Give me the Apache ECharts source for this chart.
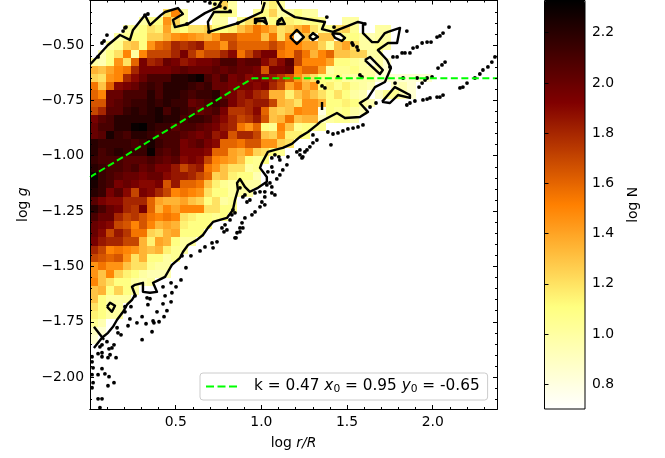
<!DOCTYPE html>
<html><head><meta charset="utf-8">
<style>html,body{margin:0;padding:0;background:#fff}#c{width:665px;height:458px}</style>
<script src="https://cdn.jsdelivr.net/npm/echarts@6/dist/echarts.min.js"></script>
</head><body><div id="c"></div>
<script>
const _ = null;
const xRange = [0, 2.375];
const yRange = [-2.144, -0.299];
const cRange = [0.702, 2.328];
const xBin = 0.0475, yBin = 0.0369;
const xMajor = [0.5, 1.0, 1.5, 2.0];
const xMinor = [0.1,0.2,0.3,0.4,0.6,0.7,0.8,0.9,1.1,1.2,1.3,1.4,1.6,1.7,1.8,1.9,2.1,2.2,2.3];
const yMajor = [-2.0,-1.75,-1.5,-1.25,-1.0,-0.75,-0.5];
const yMinor = [-2.1,-2.05,-1.95,-1.9,-1.85,-1.8,-1.7,-1.65,-1.6,-1.55,-1.45,-1.4,-1.35,-1.3,-1.2,-1.15,-1.1,-1.05,-0.95,-0.9,-0.85,-0.8,-0.7,-0.65,-0.6,-0.55,-0.45,-0.4,-0.35,-0.3];
const cTicks = [0.8,1.0,1.2,1.4,1.6,1.8,2.0,2.2];
const rowStart = [15,9,6,4,3,2,1,0,0,0,0,0,0,0,0,0,0,0,0,0,0,0,0,0,0,0,0,0,0,0,0,0,0,0,0,0,0,0,0,0,0,0,0];
const heatRows = [
[1.0,1.25,1.0,_,_,_,1.0,1.15,1.0],
[1.2,1.5,1.0,_,_,_,1.0,1.1,1.05,_,_,1.05,1.1,1.25,1.0,1.0,1.1,1.0,1.0],
[1.0,1.05,1.1,1.45,1.25,1.0,_,_,_,1.0,1.0,_,1.05,1.2,1.25,1.0,1.1,1.1,1.15,1.1,1.05,1.1,1.05,_,_,1.0,1.0],
[1.0,1.05,1.1,1.2,1.15,1.4,1.15,1.1,1.2,1.2,1.25,1.1,1.1,1.15,1.3,1.4,1.55,1.45,1.35,1.2,1.25,1.35,1.45,1.2,1.05,1.05,1.2,1.25,1.05,_,_,1.0,1.0],
[1.0,1.05,1.1,1.1,1.25,1.25,1.35,1.45,1.5,1.45,1.4,1.35,1.45,1.65,1.65,1.55,1.55,1.55,1.3,1.55,1.2,1.45,.75,1.3,.8,1.3,1.3,.75,1.1,1.1,1.0,.95,1.0,1.0],
[1.0,1.05,1.25,1.3,1.1,1.45,1.6,1.65,1.8,1.75,1.8,1.85,1.6,1.6,1.45,1.7,1.6,1.6,1.6,1.6,1.7,1.6,1.5,1.5,1.4,1.4,1.25,1.05,1.3,1.4,1.2,1.0,1.0,1.05,1.0],
[.95,1.1,1.2,1.5,1.0,1.5,1.7,1.7,1.7,1.8,1.95,1.75,1.6,1.7,1.7,1.8,1.9,1.55,1.7,1.85,1.95,1.95,1.55,1.5,1.7,1.55,1.35,1.5,1.6,1.3,1.3,1.25,1.25,1.0,1.0],
[1.0,.95,1.1,1.45,1.2,1.6,1.95,1.8,1.85,2.0,1.95,1.85,1.9,1.95,1.95,2.0,2.1,2.1,2.0,2.05,2.05,1.9,1.8,1.9,2.05,1.7,1.5,1.5,1.5,1.4,1.1,1.1,1.05,1.0,.8,1.0,.85],
[1.35,1.3,1.4,1.5,1.55,1.8,1.95,1.95,1.95,1.95,2.0,2.05,2.0,2.0,2.0,2.05,2.0,2.05,2.0,2.0,1.95,1.65,1.95,1.95,2.0,1.5,1.6,1.6,1.4,1.0,1.05,1.05,1.1,1.0,1.0,.95,.85],
[1.25,1.2,1.45,1.5,1.8,1.9,2.0,2.1,2.1,2.1,2.2,2.2,2.25,2.3,2.1,2.0,2.1,1.95,2.0,1.9,1.95,1.9,1.85,1.75,1.65,1.45,1.3,1.2,1.1,1.05,1.1,1.0,1.0,1.0,1.0,.85,.85,.85,.85,.85,.85,.85],
[1.55,1.3,1.6,1.9,1.95,2.0,2.1,2.15,2.1,2.2,2.2,2.2,2.15,2.1,2.15,2.0,2.0,1.95,1.95,1.95,1.9,1.95,1.8,1.7,1.4,1.55,1.35,1.45,1.1,1.15,1.05,1.15,1.05,1.0,.95,_,_,.9,.95,.85],
[1.6,1.5,2.0,2.0,2.1,2.1,2.1,2.2,2.1,2.2,2.2,2.15,2.1,2.15,2.15,2.2,2.0,1.95,1.85,1.9,1.8,1.75,1.35,1.35,1.15,1.3,1.4,1.3,1.2,1.1,1.2,1.1,1.0,.95,_,.9,1.05,1.05,.95,.85],
[1.65,1.65,2.0,2.05,2.1,2.15,2.15,2.2,2.15,2.2,2.15,2.15,2.0,2.05,2.1,2.15,2.1,1.95,1.85,1.8,1.85,1.85,1.7,1.35,1.3,1.2,1.45,1.45,1.35,1.1,1.1,1.15,1.1,1.0,.95],
[1.7,1.8,2.05,2.05,2.15,2.2,2.15,2.2,2.25,2.1,2.2,2.15,2.1,2.0,2.05,2.1,1.95,1.75,1.75,1.8,1.9,1.6,1.3,1.25,1.3,1.5,1.45,1.45,.8,1.1,1.05,1.1,1.0,.95],
[1.95,2.05,2.1,2.2,2.2,2.2,2.2,2.2,2.25,2.2,2.2,2.1,2.15,2.15,2.1,2.0,1.9,1.8,1.7,1.75,1.85,1.65,1.3,1.35,1.55,1.3,1.35,1.35,.9,1.0,1.05,1.05,.95],
[2.0,2.1,2.1,2.2,2.2,2.3,2.32,2.2,2.15,2.15,2.05,2.1,2.1,2.05,2.0,1.95,1.85,1.8,1.55,1.45,1.6,1.1,1.05,1.5,1.3,1.05,1.1,1.05,1.05],
[2.0,2.05,2.25,2.15,2.1,2.2,2.2,2.15,2.1,2.1,2.1,2.05,2.0,1.95,2.0,1.85,1.9,1.65,1.8,1.8,1.7,1.3,1.25,1.45,1.15,1.15,1.1],
[2.2,2.15,2.15,2.15,2.15,2.1,2.15,2.25,2.15,2.1,2.1,1.95,2.0,2.05,1.95,1.9,1.6,1.6,1.55,1.65,1.65,1.45,1.45,1.25,1.2],
[2.2,2.1,2.15,2.2,2.15,2.15,2.15,2.3,2.1,2.05,2.1,1.95,1.95,1.95,1.9,1.6,1.6,1.4,1.35,1.45,1.25,1.2,1.1,1.05],
[2.15,2.1,2.1,2.1,2.05,2.05,2.05,2.1,2.05,2.0,2.05,1.9,1.95,1.9,1.7,1.5,1.45,1.4,1.3,1.1,1.05,1.1],
[2.2,2.15,2.1,2.1,2.05,2.1,2.0,2.05,1.95,1.95,1.85,1.7,1.8,1.85,1.55,1.45,1.3,1.2,1.2,1.0,1.05],
[2.3,2.15,2.1,2.05,2.0,2.0,1.95,2.0,2.0,1.9,1.85,1.85,1.8,1.7,1.6,1.25,1.3,1.15,1.1,1.1,.95],
[2.25,2.15,2.1,1.95,2.0,1.95,1.9,1.9,1.95,1.65,1.85,1.6,1.6,1.55,1.3,1.15,1.05,1.0,1.05,1.0,1.0],
[2.2,2.15,1.95,2.05,1.9,1.7,1.95,1.9,1.8,1.7,1.5,1.55,1.5,1.45,1.2,1.1,1.1,1.0,1.0,1.0],
[2.05,1.95,1.9,1.9,1.8,1.8,1.8,1.6,1.4,1.35,1.35,1.4,1.3,1.25,1.1,1.2,1.0,1.05],
[2.2,2.1,2.0,1.95,1.8,1.75,1.95,1.6,1.35,1.5,1.4,1.5,1.5,1.5,1.2,1.2,1.1,1.1],
[2.1,2.0,2.0,1.8,1.7,1.75,1.65,1.55,1.5,1.55,1.5,1.2,1.15,1.1,1.1,1.05,1.1],
[2.0,1.95,1.9,1.7,1.65,1.5,1.65,1.5,1.35,1.4,1.35,1.15,1.1,1.1,1.1],
[2.0,1.9,1.7,1.85,1.75,1.55,1.55,1.25,1.2,1.35,1.4,1.1,1.1,1.1],
[1.95,1.85,1.8,1.8,1.7,1.7,1.35,1.15,1.4,1.35,1.1,1.0,1.0],
[1.8,1.7,1.5,1.55,1.5,1.45,1.35,1.3,1.35,1.15,1.05,1.0],
[1.7,1.65,1.6,1.65,1.45,1.2,1.35,1.1,1.1,1.0,1.05],
[1.45,1.55,1.45,1.45,1.3,1.2,1.2,1.05,1.0,1.0],
[1.45,1.3,1.5,1.25,1.15,1.1,1.0,.95,.95,.95],
[1.5,1.3,1.2,1.1,1.1,1.0,.95,1.0],
[1.3,1.35,1.1,1.25,1.1,1.0],
[1.3,1.1,1.0,1.0,1.0],
[1.2,1.1,1.0,1.0],
[1.15,1.1,1.0,1.0],
[1.05,.95],
[.9,.85],
[.85]
];
const contourMain = [[.023,-1.868],[.070,-1.822],[.105,-1.800],[.134,-1.773],[.158,-1.741],[.193,-1.705],[.216,-1.673],[.245,-1.651],[.263,-1.628],[.245,-1.592],[.263,-1.583],[.309,-1.574],[.309,-1.615],[.350,-1.619],[.391,-1.615],[.368,-1.574],[.391,-1.565],[.438,-1.547],[.455,-1.524],[.478,-1.493],[.525,-1.461],[.543,-1.434],[.572,-1.403],[.624,-1.380],[.659,-1.358],[.688,-1.326],[.718,-1.299],[.758,-1.290],[.799,-1.281],[.834,-1.245],[.846,-1.200],[.863,-1.154],[.858,-1.123],[.875,-1.105],[.904,-1.141],[.933,-1.163],[.980,-1.145],[1.032,-1.118],[1.032,-1.096],[.992,-1.055],[1.003,-1.033],[1.038,-.983],[1.079,-.974],[1.125,-.965],[1.178,-.947],[1.225,-.915],[1.272,-.893],[1.324,-.861],[1.342,-.848],[1.441,-.807],[1.488,-.830],[1.575,-.825],[1.622,-.802],[1.575,-.762],[1.622,-.739],[1.663,-.690],[1.721,-.667],[1.756,-.604],[1.733,-.568],[1.680,-.523],[1.739,-.491],[1.792,-.491],[1.809,-.423],[1.739,-.441],[1.721,-.446],[1.680,-.487],[1.646,-.487],[1.593,-.446],[1.593,-.401],[1.564,-.396],[1.517,-.410],[1.418,-.441],[1.354,-.428],[1.371,-.396],[1.196,-.374],[1.125,-.342],[1.096,-.306],[1.09,-.297]];
const contourPeak = [[1.020,-.306],[1.003,-.351],[.863,-.401],[.694,-.441],[.688,-.396],[.723,-.351],[.828,-.351]];
const contourLeft = [[.003,-.586],[.041,-.554],[.105,-.500],[.175,-.455],[.233,-.477],[.251,-.432],[.321,-.365],[.350,-.410],[.414,-.365],[.438,-.351],[.513,-.333],[.542,-.360],[.484,-.387],[.496,-.419],[.572,-.405],[.671,-.356],[.746,-.329],[.770,-.297]];
const hole1 = [[1.167,-.464],[1.207,-.432],[1.248,-.464],[1.207,-.495],[1.167,-.464]];
const hole2 = [[1.278,-.464],[1.301,-.446],[1.330,-.464],[1.301,-.477],[1.278,-.464]];
const hole3 = [[1.412,-.446],[1.459,-.450],[1.488,-.468],[1.470,-.482],[1.430,-.468],[1.412,-.446]];
const hole4 = [[.963,-.405],[.963,-.383],[1.020,-.378],[1.032,-.405],[1.009,-.392],[.974,-.392],[.963,-.405]];
const hole5 = [[1.090,-.396],[1.119,-.378],[1.137,-.405],[1.108,-.405],[1.090,-.396]];
const hole6 = [[1.604,-.568],[1.634,-.554],[1.709,-.613],[1.692,-.631],[1.604,-.568]];
const hole7 = [[1.354,-.757],[1.354,-.793]];
const hole8 = [[1.704,-.757],[1.779,-.690],[1.867,-.726],[1.867,-.739],[1.797,-.726],[1.750,-.762],[1.704,-.757]];
const hole9 = [[.099,-1.682],[.117,-1.664],[.146,-1.678],[.128,-1.705],[.099,-1.682]];
const hole10 = [[.023,-1.773],[.082,-1.831]];
const contours = [contourMain,contourPeak,contourLeft,hole1,hole2,hole3,hole4,hole5,hole6,hole7,hole8,hole9,hole10];
const sparsePoints = [[.070,-.491],[.082,-.482],[.099,-.455],[.193,-.437],[.204,-.423],[.210,-.419],[.047,-.554],[.321,-.365],[.338,-.360],[.572,-.301],[.671,-.301],[.700,-.310],[.729,-.315],[.758,-.324],[.788,-.333],[.817,-.347],[.863,-.401],[.566,-.405],[.694,-.441],
[1.096,-.405],[1.108,-.387],[1.382,-.374],[1.424,-.419],[1.604,-.405],[1.849,-.437],[1.768,-.554],[1.792,-.554],[1.821,-.536],[1.838,-.536],[1.867,-.536],[1.885,-.514],[1.909,-.509],[1.938,-.491],[1.967,-.487],[1.990,-.487],[2.025,-.464],[2.042,-.459],[2.060,-.446],[2.095,-.419],
[2.072,-.577],[2.054,-.590],[2.031,-.604],[1.996,-.644],[1.967,-.649],[1.909,-.649],[1.827,-.649],[1.750,-.599],[1.920,-.690],[1.938,-.672],[1.955,-.658],[1.535,-.500],[1.558,-.509],[1.529,-.491],[1.564,-.523],[1.330,-.667],[1.354,-.685],[1.371,-.694],[1.447,-.644],[1.587,-.644],[1.575,-.635],[1.780,-.672],[1.634,-.780],[1.669,-.762],
[1.849,-.771],[1.867,-.762],[1.896,-.753],[1.943,-.748],[1.967,-.744],[1.984,-.739],[2.025,-.735],[2.042,-.735],[2.060,-.726],[2.159,-.694],[2.176,-.690],[2.200,-.672],[2.246,-.649],[2.275,-.631],[2.293,-.613],[2.322,-.599],[2.345,-.577],[2.363,-.554],
[1.388,-.893],[1.418,-.902],[1.447,-.897],[1.476,-.888],[1.505,-.879],[1.535,-.875],[1.564,-.870],[1.593,-.861],[1.301,-.906],[1.324,-.929],[1.301,-.942],[1.283,-.960],[1.266,-.974],[1.406,-.951],[1.254,-.983],[1.225,-.974],[1.207,-.983],[1.242,-1.005],[1.225,-.996],[1.237,-1.010],
[1.149,-1.041],[1.125,-1.064],[1.108,-1.087],[1.090,-1.105],[1.155,-1.005],[1.079,-.996],[1.102,-1.005],[1.108,-1.019],[1.061,-1.010],[1.061,-1.051],[1.067,-1.073],[1.038,-1.073],[1.050,-1.123],[1.061,-1.141],[1.032,-1.132],[.992,-1.163],[.963,-1.168],[.933,-1.200],[.916,-1.209],[1.020,-1.163],[1.061,-1.168],[1.079,-1.177],[1.020,-1.186],[1.003,-1.209],[.992,-1.231],[.963,-1.254],[.945,-1.267],[.892,-1.186],[.875,-1.145],[.904,-1.177],[1.020,-1.222],[.904,-1.281],[.887,-1.303],[.875,-1.326],[.858,-1.348],[.846,-1.371],[.846,-1.258],[.828,-1.267],[.834,-1.245],[.817,-1.290],[.788,-1.312],[.770,-1.326],[.782,-1.344],
[.852,-1.371],[.875,-1.344],[.892,-1.326],[.799,-1.335],[.741,-1.389],[.712,-1.394],[.718,-1.416],[.671,-1.412],[.642,-1.430],[.589,-1.452],[.537,-1.452],[.560,-1.506],[.531,-1.561],[.473,-1.574],[.502,-1.592],[.426,-1.592],[.438,-1.633],[.478,-1.619],[.473,-1.660],[.426,-1.669],[.449,-1.700],[.432,-1.727],[.403,-1.750],[.368,-1.746],[.373,-1.755],[.327,-1.759],[.362,-1.795],[.391,-1.705],[.333,-1.642],[.350,-1.646],[.338,-1.673],[.304,-1.727],[.274,-1.755],[.233,-1.737],[.222,-1.768],[.304,-1.831],[.263,-1.633],[.239,-1.682],[.204,-1.682],[.204,-1.705],[.158,-1.777],[.163,-1.800],[.181,-1.809],[.140,-1.854],[.128,-1.868],[.111,-1.872],[.099,-1.840],[.070,-1.854],[.058,-1.863],[.117,-1.899],[.152,-1.912],[.105,-1.912],[.070,-1.890],[.047,-1.894],[.070,-1.908],[.012,-1.908],[.012,-1.931],[.018,-1.958],[.012,-1.989],[.047,-1.989],[.070,-1.962],[.087,-1.985],[.111,-1.998],[.140,-2.025],[.105,-2.039],[.018,-2.025],[.012,-2.048],[.047,-2.098],[.070,-2.098],[.058,-2.138]];
const fitLine = [[0,-1.0965],[0.95,-0.65],[2.375,-0.65]];
const fitName = 'k = 0.47 x0 = 0.95 y0 = -0.65';

const FONT = 'DejaVu Sans';
const cells = [];
heatRows.forEach((r, j) => r.forEach((v, k) => { if (v !== null) cells.push([rowStart[j] + k, j, v]); }));

function fmtX(v){ return v.toFixed(1); }
function fmtY(v){ return v.toFixed(2).replace('-', '\u2212'); }
function mkX(pos, vals, len, label){
  return {type:'value', gridIndex:0, min:xRange[0], max:xRange[1], position:pos, z:6,
    axisLine:{show:true,onZero:false,lineStyle:{color:'#000',width:1}}, splitLine:{show:false},
    axisTick:{show:true,inside:true,length:len,customValues:vals,lineStyle:{color:'#000',width:1}},
    axisLabel:{show:label,customValues:vals,formatter:fmtX,color:'#000',fontFamily:FONT,fontSize:13.9,margin:6}};
}
function mkY(pos, vals, len, label){
  return {type:'value', gridIndex:0, min:yRange[0], max:yRange[1], position:pos, z:6,
    axisLine:{show:true,onZero:false,lineStyle:{color:'#000',width:1}}, splitLine:{show:false},
    axisTick:{show:true,inside:true,length:len,customValues:vals,lineStyle:{color:'#000',width:1}},
    axisLabel:{show:label,customValues:vals,formatter:fmtY,color:'#000',fontFamily:FONT,fontSize:13.9,margin:6}};
}
const xa0 = mkX('bottom', xMajor, 4, true);
xa0.name = '{a|log }{b|r/R}'; xa0.nameLocation='middle'; xa0.nameGap=27;
xa0.nameTextStyle = {rich:{a:{fontFamily:FONT,fontSize:13.9,color:'#000'},b:{fontFamily:FONT,fontSize:13.9,fontStyle:'italic',color:'#000'}}};
const ya0 = mkY('left', yMajor, 4, true);
ya0.name = '{a|log }{b|g}'; ya0.nameLocation='middle'; ya0.nameGap=60;
ya0.nameTextStyle = {rich:{a:{fontFamily:FONT,fontSize:13.9,color:'#000'},b:{fontFamily:FONT,fontSize:13.9,fontStyle:'italic',color:'#000'}}};

const option = {
  animation:false, backgroundColor:'#fff',
  grid:[
    {left:90,top:0.5,width:407,height:408.5,containLabel:false},
    {left:544.5,top:0.5,width:40.5,height:408.5,show:true,borderColor:'#000',borderWidth:1,backgroundColor:'transparent',z:10}
  ],
  xAxis:[xa0, mkX('bottom',xMinor,2,false), mkX('top',xMajor,4,false), mkX('top',xMinor,2,false),
    {type:'value',gridIndex:1,show:false,min:0,max:1}],
  yAxis:[ya0, mkY('left',yMinor,2,false), mkY('right',yMajor,4,false), mkY('right',yMinor,2,false),
    {type:'value',gridIndex:1,position:'right',min:cRange[0],max:cRange[1],z:11,name:'log N',nameLocation:'middle',nameRotate:90,nameGap:41,
     nameTextStyle:{fontFamily:FONT,fontSize:13.9,color:'#000'},splitLine:{show:false},
     axisLine:{show:false},axisTick:{show:true,length:4,customValues:cTicks,lineStyle:{color:'#000'}},
     axisLabel:{customValues:cTicks,formatter:fmtX,color:'#000',fontFamily:FONT,fontSize:13.9,margin:7}}],
  visualMap:{type:'continuous',seriesIndex:0,dimension:2,min:cRange[0],max:cRange[1],calculable:false,
    left:544.5,top:0.5,itemWidth:40.5,itemHeight:408.5,text:null,showLabel:false,padding:0,z:1,
    inRange:{color:['#ffffff','#ffff80','#ff8000','#800000','#000000']}},
  legend:{show:true,data:[{name:fitName,icon:'path://M0 0h8v2h-8z M11.5 0h8v2h-8z M23 0h8v2h-8z'}],left:200,top:373,padding:[6,8,5,6],itemWidth:31,itemHeight:2,itemGap:0,
    backgroundColor:'rgba(255,255,255,0.8)',borderColor:'#ccc',borderWidth:1,borderRadius:3,
    itemStyle:{color:'#00ff00',borderWidth:0},lineStyle:{width:0},
    formatter:function(){return '{g| }{t|k = 0.47 }{i|x}{s|0}{t| = 0.95 }{i|y}{s|0}{t| = -0.65}';},
    textStyle:{fontFamily:FONT,fontSize:15.3,color:'#000',rich:{
      g:{width:12,fontSize:15.3},
      t:{fontFamily:FONT,fontSize:15.3,color:'#000'},
      i:{fontFamily:FONT,fontSize:15.3,fontStyle:'italic',color:'#000'},
      s:{fontFamily:FONT,fontSize:10.7,color:'#000',verticalAlign:'bottom',padding:[6,0,0,0]}}}},
  series:[
    {type:'custom',xAxisIndex:0,yAxisIndex:0,data:cells,clip:true,silent:true,z:2,
     encode:{x:0,y:1},
     renderItem:function(params,api){
       const i=api.value(0), j=api.value(1);
       const p0=api.coord([i*xBin, yRange[1]-j*yBin]);
       const p1=api.coord([(i+1)*xBin, yRange[1]-(j+1)*yBin]);
       const x0=Math.round(p0[0]), y0=Math.round(p0[1]), x1=Math.round(p1[0]), y1=Math.round(p1[1]);
       return {type:'rect',shape:{x:x0,y:y0,width:x1-x0,height:y1-y0},style:{fill:api.visual('color')}};
     }},
    ...contours.map(c=>({type:'line',xAxisIndex:0,yAxisIndex:0,data:c,showSymbol:false,symbol:'none',silent:true,z:3,
      lineStyle:{color:'#000',width:2.4,join:'round'}})),
    {type:'scatter',xAxisIndex:0,yAxisIndex:0,data:sparsePoints,symbol:'circle',symbolSize:3.8,silent:true,z:4,itemStyle:{color:'#000',opacity:1}},
    {type:'line',name:fitName,xAxisIndex:0,yAxisIndex:0,data:fitLine,showSymbol:false,symbol:'none',silent:true,z:5,
      lineStyle:{color:'#00ff00',width:2,type:[7,3.5]},itemStyle:{color:'#00ff00'}}
  ]
};
const chart = echarts.init(document.getElementById('c'),null,{renderer:'canvas'});
chart.setOption(option);
</script></body></html>
